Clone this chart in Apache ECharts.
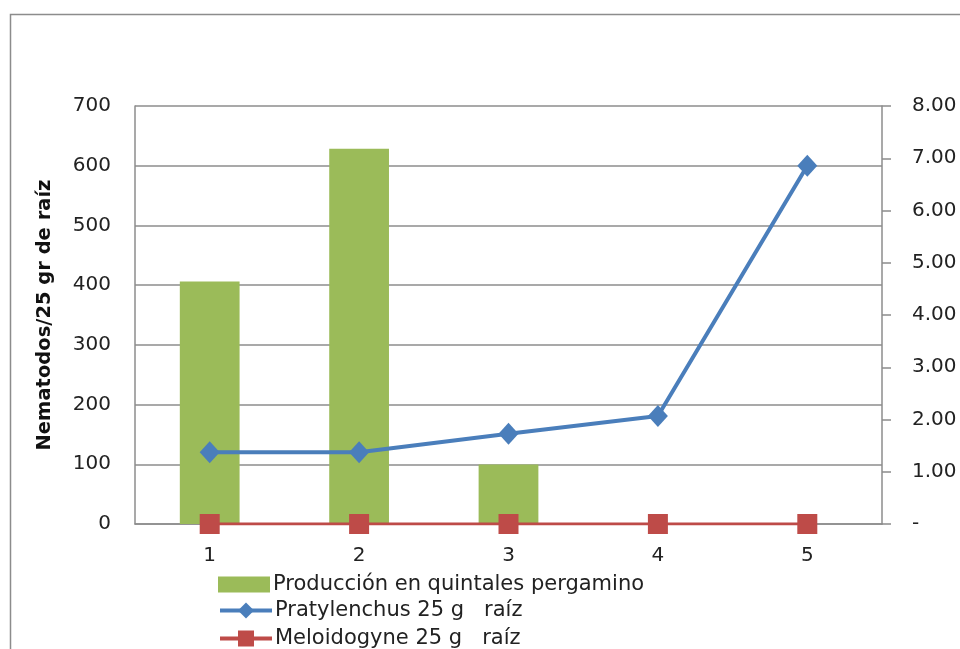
<!DOCTYPE html>
<html><head><meta charset="utf-8">
<script src="https://cdn.jsdelivr.net/npm/echarts@6/dist/echarts.min.js"></script>
<style>html,body{margin:0;padding:0;background:#fff}#c{width:960px;height:649px}</style>
</head><body><div id="c"></div>
<script>
var categories = ['1','2','3','4','5'];
var produccion = [4.64, 7.18, 1.14, 0, 0];
var pratylenchus = [120, 120, 151, 181, 600];
var meloidogyne = [0, 0, 0, 0, 0];
var seriesNames = ['Producción en quintales pergamino','Pratylenchus 25 g   raíz','Meloidogyne 25 g   raíz'];
var leftTitle = 'Nematodos/25 gr de raíz';

var FONT = 'DejaVu Sans';
var BLUE = '#4A7EBB', RED = '#BE4B48', GREEN = '#9BBB59';
function leg(top, h, item){
  return {orient:'vertical', left:213, top:top, itemWidth:52, itemHeight:h, itemGap:0,
    textStyle:{fontFamily:FONT, fontSize:21, color:'#222', padding:[0,0,0,-2]}, data:[item]};
}
var chart = echarts.init(document.getElementById('c'));
chart.setOption({
  animation: false,
  backgroundColor: '#fff',
  graphic: [{type:'rect', shape:{x:10.5,y:14.5,width:1000,height:700}, style:{fill:'none', stroke:'#8c8c8c', lineWidth:1.5}, silent:true}],
  grid: {left:135, right:78, top:106, bottom:125, show:false},
  legend: [
    leg(569, 16, {name:seriesNames[0], icon:'rect', itemStyle:{color:GREEN}}),
    leg(595, 20, {name:seriesNames[1], lineStyle:{width:4, color:BLUE}}),
    leg(623, 20, {name:seriesNames[2], lineStyle:{width:4, color:RED}})
  ],
  xAxis: {
    type:'category', data:categories, boundaryGap:true,
    axisLine:{lineStyle:{color:'#8c8c8c', width:1.5}}, axisTick:{show:false},
    axisLabel:{fontFamily:FONT, fontSize:20, color:'#222', margin:22}
  },
  yAxis: [{
    type:'value', min:0, max:700, interval:100, position:'left',
    name:leftTitle, nameLocation:'middle', nameGap:80, nameRotate:90,
    nameTextStyle:{fontFamily:FONT, fontSize:19.5, fontWeight:'bold', color:'#111'},
    axisLine:{show:true, lineStyle:{color:'#8c8c8c', width:1.5}}, axisTick:{show:false},
    splitLine:{lineStyle:{color:'#8c8c8c', width:1.5}},
    axisLabel:{fontFamily:FONT, fontSize:20, color:'#222', margin:24}
  },{
    type:'value', min:0, max:8, interval:1, position:'right',
    axisLine:{show:true, lineStyle:{color:'#8c8c8c', width:1.5}},
    axisTick:{show:true, inside:false, length:9, lineStyle:{color:'#8c8c8c', width:1.5}},
    splitLine:{show:false},
    axisLabel:{fontFamily:FONT, fontSize:20, color:'#222', margin:30,
      formatter:function(v){return v===0?'-':v.toFixed(2);}}
  }],
  series: [{
    name:seriesNames[0], type:'bar', yAxisIndex:1, data:produccion,
    barWidth:'40%', itemStyle:{color:GREEN}
  },{
    name:seriesNames[1], type:'line', yAxisIndex:0, data:pratylenchus,
    symbol:'diamond', symbolSize:[20,22], lineStyle:{color:BLUE, width:4},
    itemStyle:{color:BLUE}, z:5
  },{
    name:seriesNames[2], type:'line', yAxisIndex:0, data:meloidogyne,
    symbol:'rect', symbolSize:20, lineStyle:{color:RED, width:3},
    itemStyle:{color:RED}, z:6
  }]
});
</script></body></html>
